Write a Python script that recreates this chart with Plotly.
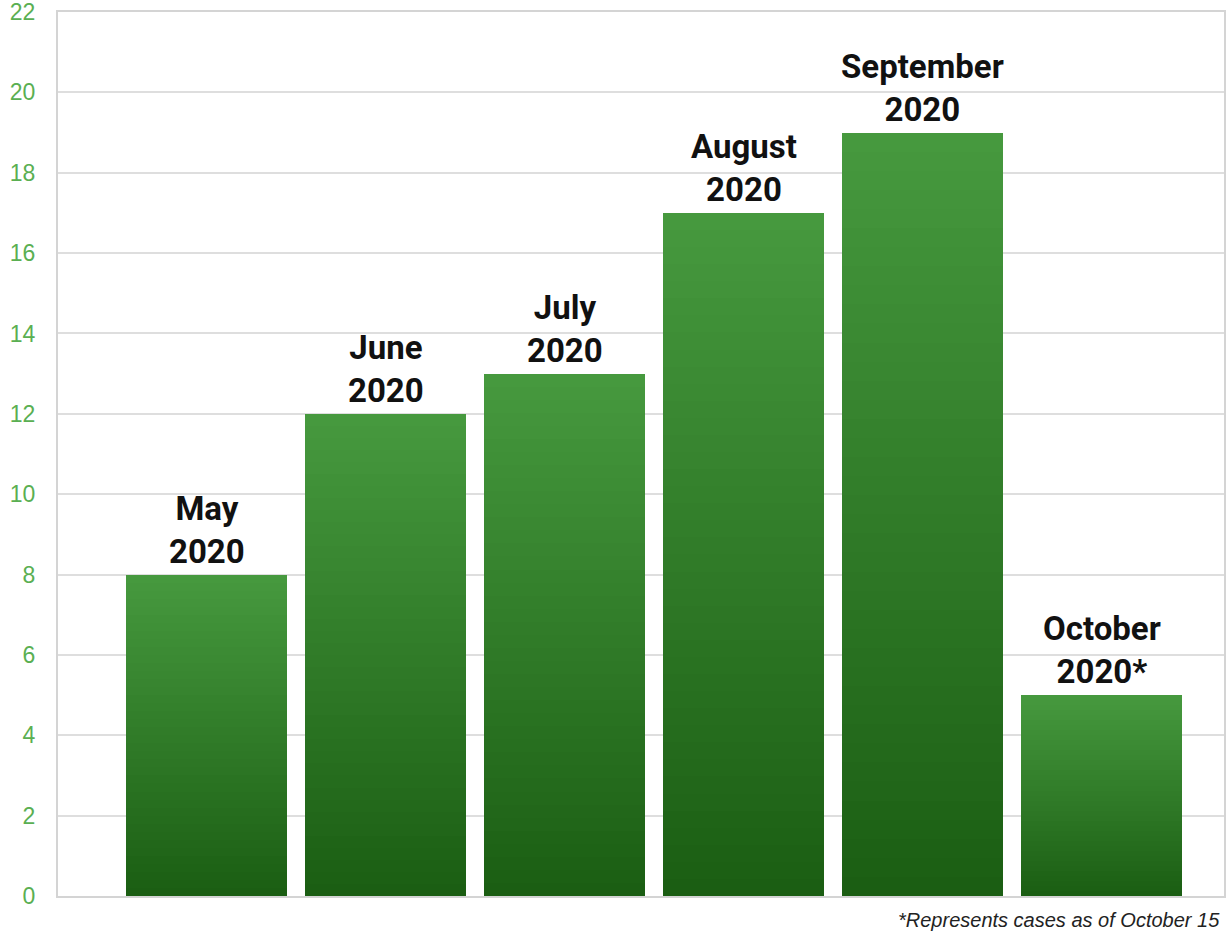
import plotly.graph_objects as go

months = ["May", "June", "July", "August", "September", "October"]
years = ["2020", "2020", "2020", "2020", "2020", "2020*"]
cases = [8, 12, 13, 17, 19, 5]
y_ticks = [0, 2, 4, 6, 8, 10, 12, 14, 16, 18, 20, 22]
footnote = "*Represents cases as of October 15"

top_rgb = (70, 153, 62)
bottom_rgb = (27, 94, 19)
N = 40

x = list(range(len(months)))
fig = go.Figure()
for k in range(N):
    t = k / (N - 1)
    c = tuple(round(bottom_rgb[i] + (top_rgb[i] - bottom_rgb[i]) * t) for i in range(3))
    fig.add_trace(go.Bar(
        x=x, y=[v / N for v in cases], width=0.9,
        marker=dict(color="rgb(%d,%d,%d)" % c, line=dict(width=0)),
        showlegend=False, hoverinfo="skip",
    ))

for i, (m, yr, v) in enumerate(zip(months, years, cases)):
    fig.add_annotation(
        x=i, y=v, text=m + "<br>" + yr, showarrow=False,
        yanchor="bottom", xanchor="center", yshift=2,
        font=dict(family="Roboto", size=33, color="#111111", weight="bold"),
    )

fig.add_annotation(
    x=1, y=0, xref="paper", yref="paper", xanchor="right", yanchor="top",
    yshift=-11, xshift=-2, text="<i>" + footnote + "</i>", showarrow=False,
    font=dict(family="Liberation Sans", size=20, color="#222222"),
)

fig.update_layout(
    width=1229, height=937,
    margin=dict(l=58, r=5, t=12, b=41, autoexpand=False),
    paper_bgcolor="white", plot_bgcolor="white",
    barmode="stack", bargap=0,
    xaxis=dict(range=[-0.83, 5.684], showticklabels=False, showgrid=False,
               zeroline=False, showline=True, mirror=True, automargin=False,
               linecolor="#d4d4d4", linewidth=2, fixedrange=True),
    yaxis=dict(range=[0, 22.0001], tickvals=y_ticks, showgrid=True,
               gridcolor="#dedede", gridwidth=2, zeroline=False, automargin=False,
               showline=True, mirror=True, linecolor="#d4d4d4", linewidth=2,
               tickfont=dict(family="Liberation Sans", size=23, color="#5aaf52"),
               ticks="outside", ticklen=16, tickcolor="rgba(0,0,0,0)",
               ticklabeloverflow="allow"),
)

fig.write_html("out.html")
